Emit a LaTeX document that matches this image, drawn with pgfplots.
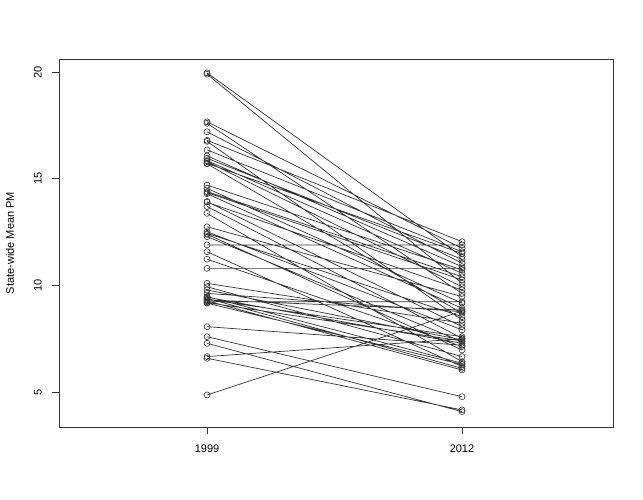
\documentclass[border=0pt]{standalone}
\usepackage{fontspec}
\setmainfont{Liberation Sans}
\usepackage{pgfplots}
\pgfplotsset{compat=1.18}

\begin{document}
\begin{tikzpicture}
\begin{axis}[
  scale only axis, width=554pt, height=368pt,
  xmin=1991.45, xmax=2019.7, ymin=3.37, ymax=20.61,
  xtick={1999,2012}, ytick={5,10,15,20},
  xticklabel style={/pgf/number format/1000 sep={}},
  /pgf/number format/assume math mode=true,
  tick align=outside, major tick length=7pt,
  xtick pos=bottom, ytick pos=left,
  tick style={black!80, line width=0.75pt},
  axis line style={black!80, line width=0.9pt},
  ticklabel style={font=\fontsize{11}{13}\selectfont},
  yticklabel style={rotate=90, anchor=south},
  ylabel={State-wide Mean PM},
  ylabel style={font=\fontsize{11}{13}\selectfont, at={(axis description cs:-0.0884,0.5)}, anchor=center},
  every tick label/.append style={inner sep=2pt},
  xticklabel shift=9pt, yticklabel shift=8pt,
]
\addplot[black!80, line width=0.7pt, mark=o, mark size=3pt,
  mark options={line width=0.6pt}, unbounded coords=jump] coordinates {
(1999,19.96) (2012,11.35) (2012,nan)
(1999,19.90) (2012,10.10) (2012,nan)
(1999,17.67) (2012,11.74) (2012,nan)
(1999,17.60) (2012,9.63) (2012,nan)
(1999,17.20) (2012,11.04) (2012,nan)
(1999,16.80) (2012,12.05) (2012,nan)
(1999,16.75) (2012,8.38) (2012,nan)
(1999,16.35) (2012,11.58) (2012,nan)
(1999,16.07) (2012,10.88) (2012,nan)
(1999,15.96) (2012,11.23) (2012,nan)
(1999,15.85) (2012,10.57) (2012,nan)
(1999,15.80) (2012,9.94) (2012,nan)
(1999,15.72) (2012,11.50) (2012,nan)
(1999,15.70) (2012,8.70) (2012,nan)
(1999,14.70) (2012,10.73) (2012,nan)
(1999,14.55) (2012,9.17) (2012,nan)
(1999,14.40) (2012,10.41) (2012,nan)
(1999,14.35) (2012,10.26) (2012,nan)
(1999,14.30) (2012,8.93) (2012,nan)
(1999,13.93) (2012,8.07) (2012,nan)
(1999,13.90) (2012,9.79) (2012,nan)
(1999,13.70) (2012,7.53) (2012,nan)
(1999,13.38) (2012,6.43) (2012,nan)
(1999,12.75) (2012,9.48) (2012,nan)
(1999,12.52) (2012,7.92) (2012,nan)
(1999,12.44) (2012,8.54) (2012,nan)
(1999,12.40) (2012,6.98) (2012,nan)
(1999,12.29) (2012,7.37) (2012,nan)
(1999,11.90) (2012,11.90) (2012,nan)
(1999,11.58) (2012,6.20) (2012,nan)
(1999,11.23) (2012,7.14) (2012,nan)
(1999,10.80) (2012,10.80) (2012,nan)
(1999,10.10) (2012,8.23) (2012,nan)
(1999,9.94) (2012,6.67) (2012,nan)
(1999,9.79) (2012,7.45) (2012,nan)
(1999,9.63) (2012,8.77) (2012,nan)
(1999,9.48) (2012,6.36) (2012,nan)
(1999,9.45) (2012,7.29) (2012,nan)
(1999,9.40) (2012,6.12) (2012,nan)
(1999,9.35) (2012,7.60) (2012,nan)
(1999,9.32) (2012,8.85) (2012,nan)
(1999,9.28) (2012,6.04) (2012,nan)
(1999,9.24) (2012,9.24) (2012,nan)
(1999,9.20) (2012,7.40) (2012,nan)
(1999,9.17) (2012,6.30) (2012,nan)
(1999,8.07) (2012,7.20) (2012,nan)
(1999,7.60) (2012,4.79) (2012,nan)
(1999,7.29) (2012,4.09) (2012,nan)
(1999,6.67) (2012,7.50) (2012,nan)
(1999,6.59) (2012,4.17) (2012,nan)
(1999,4.87) (2012,8.80)
};
\end{axis}
\path (-59pt,-73pt) rectangle (584pt,427pt);
\end{tikzpicture}
\end{document}
